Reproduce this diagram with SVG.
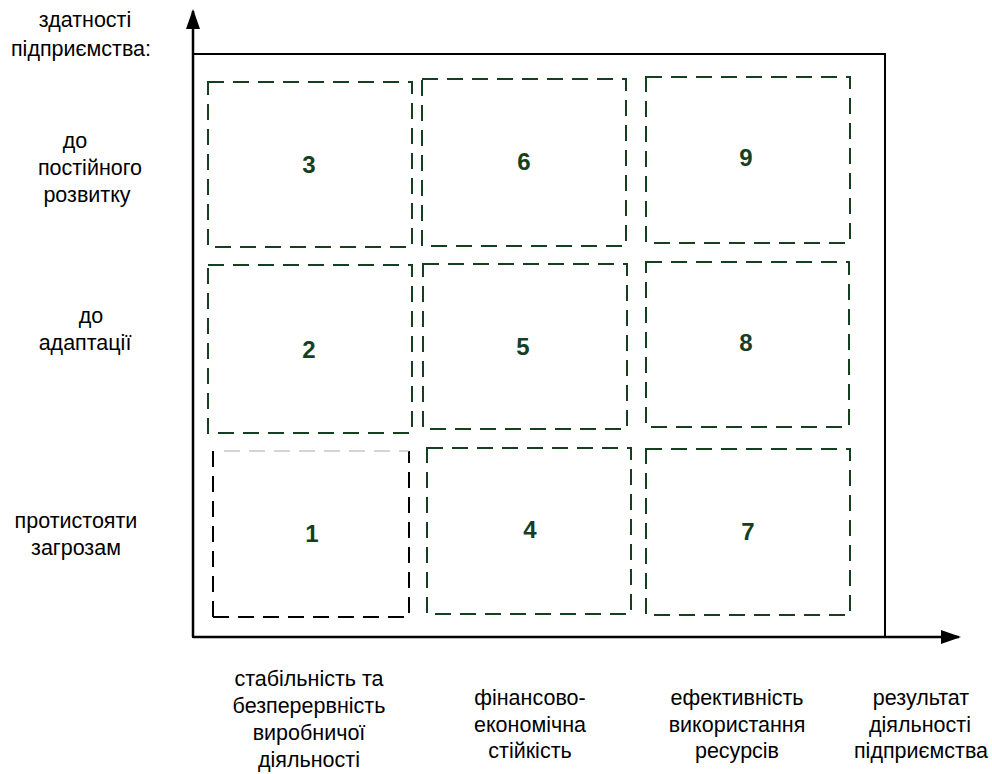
<svg xmlns="http://www.w3.org/2000/svg" width="992" height="774" viewBox="0 0 992 774">
<style>
.lbl{font-family:"Liberation Sans",Arial,sans-serif;font-size:21.5px;fill:#000;text-anchor:middle}
.num{font-family:"Liberation Sans",Arial,sans-serif;font-size:24px;font-weight:bold;fill:#153f1f;text-anchor:middle}
.box{fill:none;stroke:#153f1f;stroke-width:2;stroke-dasharray:16 9}
.axis{stroke:#000;stroke-width:2.5;fill:none}
</style>
<defs>
<marker id="ah" viewBox="0 0 10 10" refX="9" refY="5" markerWidth="8" markerHeight="5.6" markerUnits="strokeWidth" orient="auto" preserveAspectRatio="none">
<path d="M0,0 L10,5 L0,10 Z" fill="#000"/>
</marker>
</defs>
<rect width="992" height="774" fill="#fff"/>
<g id="frame">
<rect x="193" y="54" width="692" height="583" fill="none" stroke="#000" stroke-width="2"/>
</g>
<g id="connectors">
<line class="axis" x1="193" y1="637" x2="193" y2="11" marker-end="url(#ah)"/>
<line class="axis" x1="193" y1="637" x2="959" y2="637" marker-end="url(#ah)"/>
</g>
<g id="box3"><rect class="box" x="208" y="82" width="204" height="165"/><text class="num" x="309" y="173">3</text></g>
<g id="box6"><rect class="box" x="422" y="79" width="204" height="167"/><text class="num" x="524" y="170">6</text></g>
<g id="box9"><rect class="box" x="646" y="77" width="204" height="166"/><text class="num" x="746" y="166">9</text></g>
<g id="box2"><rect class="box" x="208" y="265" width="204" height="168"/><text class="num" x="309" y="358">2</text></g>
<g id="box5"><rect class="box" x="423" y="264" width="204" height="165"/><text class="num" x="523" y="355">5</text></g>
<g id="box8"><rect class="box" x="646" y="262" width="203" height="165"/><text class="num" x="746" y="351">8</text></g>
<g id="box1">
<path d="M213,617 L213,451" fill="none" stroke="#000" stroke-width="2" stroke-dasharray="16 9"/>
<path d="M213,617 L409,617 L409,451" fill="none" stroke="#000" stroke-width="2" stroke-dasharray="16 9"/>
<path d="M224,451 L409,451" fill="none" stroke="#aaa" stroke-width="1" stroke-dasharray="16 9"/>
<text class="num" x="312" y="542">1</text>
</g>
<g id="box4"><rect class="box" x="427" y="448" width="204" height="166"/><text class="num" x="530" y="538">4</text></g>
<g id="box7"><rect class="box" x="646" y="449" width="204" height="166"/><text class="num" x="748" y="540">7</text></g>
<g id="ylabels">
<text class="lbl" x="85" y="27">здатності</text>
<text class="lbl" x="81" y="56">підприємства:</text>
<text class="lbl" x="75" y="148">до</text>
<text class="lbl" x="90" y="175">постійного</text>
<text class="lbl" x="87" y="202">розвитку</text>
<text class="lbl" x="91" y="323">до</text>
<text class="lbl" x="85" y="350">адаптації</text>
<text class="lbl" x="76" y="528">протистояти</text>
<text class="lbl" x="76" y="555">загрозам</text>
</g>
<g id="xlabels">
<text class="lbl" x="309" y="686">стабільність та</text>
<text class="lbl" x="309" y="713">безперервність</text>
<text class="lbl" x="309" y="740">виробничої</text>
<text class="lbl" x="309" y="767">діяльності</text>
<text class="lbl" x="530" y="705">фінансово-</text>
<text class="lbl" x="530" y="732">економічна</text>
<text class="lbl" x="530" y="758">стійкість</text>
<text class="lbl" x="737" y="705">ефективність</text>
<text class="lbl" x="737" y="732">використання</text>
<text class="lbl" x="737" y="758">ресурсів</text>
<text class="lbl" x="921" y="705">результат</text>
<text class="lbl" x="920" y="732">діяльності</text>
<text class="lbl" x="921" y="758">підприємства</text>
</g>
</svg>
